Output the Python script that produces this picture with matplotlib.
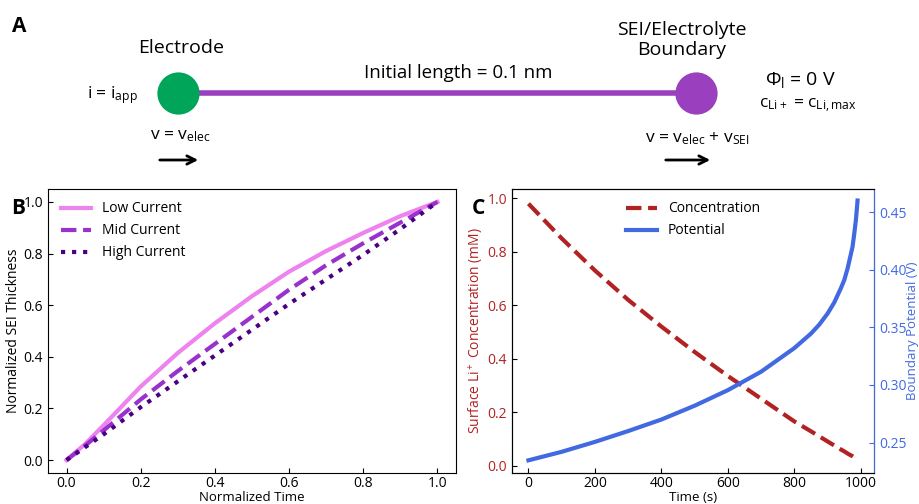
import numpy as np
import matplotlib
matplotlib.use("Agg")
import matplotlib.pyplot as plt

plt.rcParams['font.family'] = ['Open Sans', 'DejaVu Sans']
plt.rcParams['mathtext.fontset'] = 'custom'
plt.rcParams['mathtext.rm'] = 'Open Sans'
plt.rcParams['mathtext.it'] = 'Open Sans:italic'
plt.rcParams['mathtext.bf'] = 'Open Sans:bold'

# Datos panel B (tiempo normalizado vs espesor SEI normalizado)
t_norm = [0, 0.05, 0.1, 0.2, 0.3, 0.4, 0.5, 0.6, 0.7, 0.8, 0.9, 1.0]
sei_low = [0, 0.062, 0.135, 0.285, 0.415, 0.53, 0.635, 0.73, 0.81, 0.88, 0.945, 1.0]
sei_mid = [0, 0.056, 0.115, 0.235, 0.345, 0.45, 0.555, 0.66, 0.755, 0.84, 0.92, 1.0]
sei_high = [0, 0.05, 0.10, 0.205, 0.305, 0.405, 0.505, 0.605, 0.70, 0.795, 0.895, 1.0]

# Datos panel C
tiempo = [0, 100, 200, 300, 400, 500, 600, 700, 800, 850, 875, 900, 920, 940,
          950, 960, 970, 975, 980, 985, 988, 990]
concentracion = [0.98, 0.85, 0.73, 0.62, 0.52, 0.425, 0.335, 0.25, 0.165, 0.128, 0.109,
                 0.09, 0.075, 0.060, 0.053, 0.045, 0.038, 0.035, 0.031, 0.026, 0.023, 0.02]
potencial = [0.2346, 0.242, 0.2506, 0.260, 0.270, 0.282, 0.2955, 0.3115, 0.332, 0.3446, 0.3524,
             0.362, 0.3716, 0.384, 0.391, 0.401, 0.4136, 0.42, 0.431, 0.443, 0.453, 0.460]

W, H = 919, 504
fig = plt.figure(figsize=(W / 100, H / 100), dpi=100)

# ---- Panel A: esquema ----
axA = fig.add_axes([0, 0, 1, 1])
axA.set_xlim(0, W)
axA.set_ylim(H, 0)
axA.axis('off')
purple = '#9a3fbe'
axA.plot([178, 696], [93, 93], color=purple, lw=4, solid_capstyle='butt', zorder=1)
axA.scatter([178], [93], s=17**2 * 3.2, color='#00a55a', zorder=2, linewidths=0)
axA.scatter([696], [93], s=17**2 * 3.2, color='#9a3fbe', zorder=2, linewidths=0)
axA.text(19, 27, "A", fontsize=15, fontweight='bold', ha='center', va='center')
axA.text(181, 48, "Electrode", fontsize=14, ha='center', va='center')
axA.text(682, 40, "SEI/Electrolyte\nBoundary", fontsize=14, ha='center', va='center', linespacing=1.1)
axA.text(458, 73, "Initial length = 0.1 nm", fontsize=13.5, ha='center', va='center')
axA.text(112, 95, r"i = i$_\mathregular{app}$", fontsize=12.5, ha='center', va='center')
axA.text(800, 80, r"Φ$_\mathregular{l}$ = 0 V", fontsize=14, ha='center', va='center')
axA.text(808, 106, r"c$_\mathregular{Li+}$ = c$_\mathregular{Li,max}$", fontsize=12.5, ha='center', va='center')
axA.text(180, 136, r"v = v$_\mathregular{elec}$", fontsize=12.5, ha='center', va='center')
axA.text(697, 139, r"v = v$_\mathregular{elec}$ + v$_\mathregular{SEI}$", fontsize=12.5, ha='center', va='center')
axA.annotate("", xy=(201, 160), xytext=(157, 160),
             arrowprops=dict(arrowstyle='->', color='black', lw=2, mutation_scale=15))
axA.annotate("", xy=(713, 160), xytext=(663, 160),
             arrowprops=dict(arrowstyle='->', color='black', lw=2, mutation_scale=15))
axA.text(18, 209, "B", fontsize=15, fontweight='bold', ha='center', va='center')
axA.text(478, 209, "C", fontsize=15, fontweight='bold', ha='center', va='center')

# ---- Panel B ----
axB = fig.add_axes([48 / W, 31 / H, 408 / W, 284 / H])
axB.plot(t_norm, sei_low, color='violet', lw=3, label='Low Current')
axB.plot(t_norm, sei_mid, color='darkorchid', lw=3, ls='--', label='Mid Current')
axB.plot(t_norm, sei_high, color='indigo', lw=3, ls=':', label='High Current')
axB.set_xlabel("Normalized Time", fontsize=9.5, labelpad=0)
axB.set_ylabel("Normalized SEI Thickness", fontsize=10, labelpad=2)
axB.tick_params(direction='in', labelsize=10)
axB.tick_params(axis='x', pad=2)
axB.set_xticks([0, 0.2, 0.4, 0.6, 0.8, 1.0])
axB.set_yticks([0, 0.2, 0.4, 0.6, 0.8, 1.0])
axB.legend(loc='upper left', frameon=False, fontsize=10, handlelength=2.2)

# ---- Panel C ----
axC = fig.add_axes([512 / W, 31 / H, 362 / W, 284 / H])
rojo = '#b22222'
azul = '#4169e1'
l1, = axC.plot(tiempo, concentracion, color=rojo, lw=3, ls='--', label='Concentration')
axC.set_xlabel("Time (s)", fontsize=9.5, labelpad=0)
axC.set_ylabel(r"Surface Li$^+$ Concentration (mM)", fontsize=10, color=rojo, labelpad=2)
axC.tick_params(direction='in', labelsize=10)
axC.tick_params(axis='x', pad=2)
axC.tick_params(axis='y', labelcolor=rojo)
axC.set_xticks([0, 200, 400, 600, 800, 1000])
axC.set_yticks([0, 0.2, 0.4, 0.6, 0.8, 1.0])
axC.set_ylim(-0.028, 1.035)
axD = axC.twinx()
l2, = axD.plot(tiempo, potencial, color=azul, lw=3, label='Potential')
axD.set_ylabel("Boundary Potential (V)", fontsize=9.5, color=azul, labelpad=0)
axD.tick_params(direction='in', labelsize=10, colors=azul)
axD.spines['right'].set_color(azul)
axD.set_yticks([0.25, 0.30, 0.35, 0.40, 0.45])
axD.set_ylim(0.2236, 0.47)
axC.set_xlim(-49.5, 1039.5)
axC.legend([l1, l2], ['Concentration', 'Potential'], loc='upper center', frameon=False,
           fontsize=10, handlelength=2.2)

fig.savefig("out.png", dpi=100)
